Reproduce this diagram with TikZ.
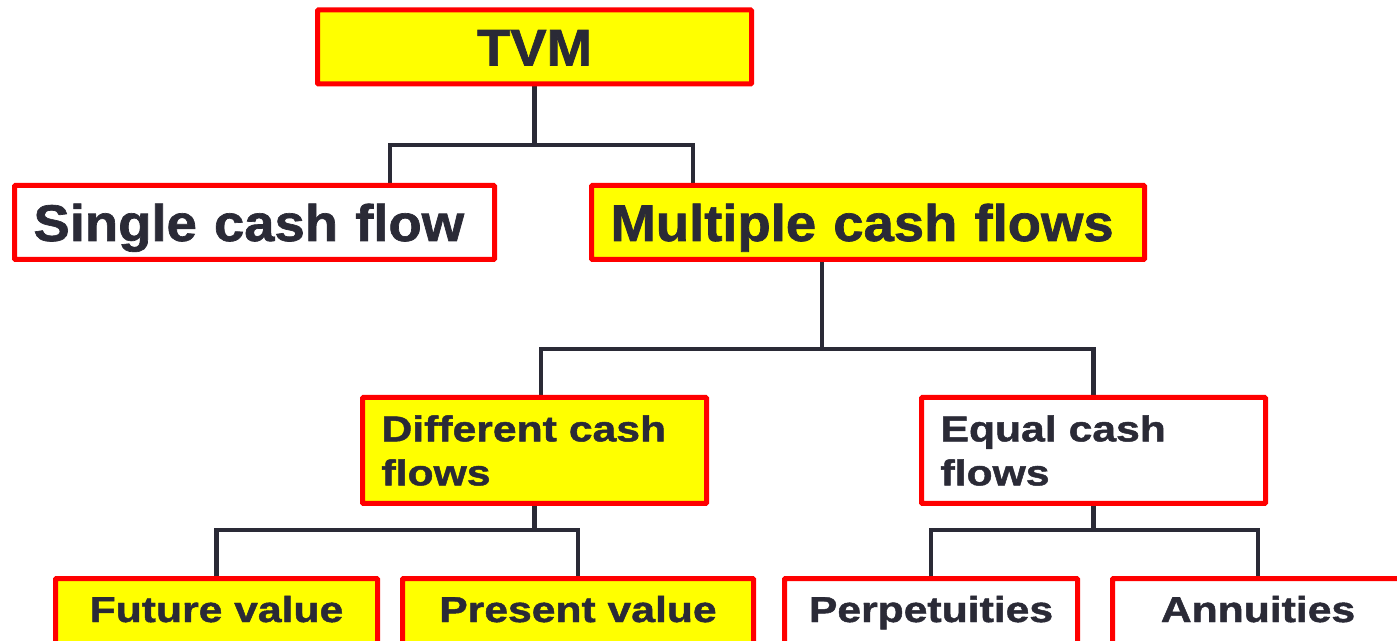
\documentclass[tikz,border=0pt]{standalone}
\usepackage{fontspec}
\setmainfont{Liberation Sans}
\newfontfamily\headfont{Liberation Sans}[FakeStretch=1.057, FakeBold=1.3]
\newfontfamily\leaffont{Liberation Sans}[FakeStretch=1.185, FakeBold=1.3]
\usetikzlibrary{positioning, backgrounds}
\definecolor{boxred}{HTML}{FF0000}
\definecolor{boxyellow}{HTML}{FFFF00}
\definecolor{ink}{HTML}{2A2A36}
\tikzset{
		>=stealth,
		tvmbox/.style={draw=boxred, line width=5pt, rounded corners=1pt, inner xsep=19pt, inner ysep=0pt, text=ink},
		bigtext/.style={tvmbox, font=\headfont\bfseries\fontsize{51.5}{60}\selectfont, text height=37pt, text depth=0pt, minimum height=74pt},
		midtext/.style={tvmbox, font=\leaffont\bfseries\fontsize{36}{44}\selectfont, minimum height=106pt, text width=306pt, align=left},
		leaftext/.style={tvmbox, font=\leaffont\bfseries\fontsize{36}{44}\selectfont, text height=26pt, text depth=40pt, inner ysep=17.5pt, anchor=base},
		yellowfill/.style={fill=boxyellow},
		whitefill/.style={fill=white},
		link/.style={draw=ink, line width=4.5pt}
	}

\begin{document}
\begin{tikzpicture}[x=1pt, y=1pt]
		\clip (0,0) rectangle (1397,640);
		% top level
		\node[bigtext, yellowfill, minimum width=434pt] (tvm) at (534.5, 593) {TVM};
		\node[bigtext, whitefill, text width=442pt, align=left] (single) at (254.5, 417.5) {Single cash flow};
		\node[bigtext, yellowfill, text width=515pt, align=left] (multi) at (868, 417.5) {Multiple cash flows};
		% second level
		\node[midtext, yellowfill] (diff) at (534.5, 189.5) {Different cash\\flows};
		\node[midtext, whitefill] (equal) at (1093.5, 189.5) {Equal cash\\flows};
		% leaves
		\node[leaftext, yellowfill, minimum width=322pt] (future) at (216.5, 18) {Future value};
		\node[leaftext, yellowfill, minimum width=351pt] (present) at (578, 18) {Present value};
		\node[leaftext, whitefill, minimum width=293pt] (perp) at (931, 18) {Perpetuities};
		\node[leaftext, whitefill, minimum width=291pt] (annu) at (1258, 18) {Annuities};
		% forks
		\coordinate (forka) at (534.5, 495);
		\coordinate (forkb) at (822, 291);
		\coordinate (forkc) at (534.5, 110);
		\coordinate (forkd) at (1093.5, 110);
		\begin{scope}[on background layer]
			\draw[link] (tvm.south) -- (forka);
			\draw[link] (forka) -| ([xshift=135.5pt]single.north);
			\draw[link] (forka) -| ([xshift=-175pt]multi.north);
			\draw[link] ([xshift=-46pt]multi.south) -- (forkb);
			\draw[link] (forkb) -| ([xshift=6.5pt]diff.north);
			\draw[link] (forkb) -| (equal.north);
			\draw[link] (diff.south) -- (forkc);
			\draw[link] (forkc) -| (future.north);
			\draw[link] (forkc) -| (present.north);
			\draw[link] (equal.south) -- (forkd);
			\draw[link] (forkd) -| (perp.north);
			\draw[link] (forkd) -| (annu.north);
		\end{scope}
	\end{tikzpicture}
\end{document}
